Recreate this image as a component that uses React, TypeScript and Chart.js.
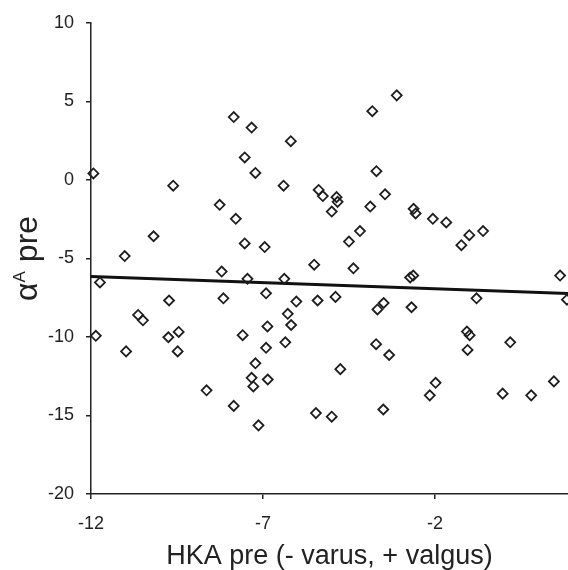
import React, { useEffect, useRef } from "react";
import { Chart, registerables } from "chart.js";

Chart.register(...registerables);

const hkaPre = [-11.93,-11.74,-11.86,-11.02,-10.98,-10.63,-10.49,-10.18,-9.61,-9.73,-9.75,-9.45,-9.48,-8.64,-8.26,-8.20,-8.15,-7.85,-7.79,-7.85,-7.53,-7.53,-7.45,-7.59,-7.33,-7.22,-7.22,-7.33,-7.28,-7.13,-6.95,-6.91,-6.87,-6.91,-6.86,-6.19,-6.40,-6.38,-6.28,-6.18,-6.35,-6.03,-5.51,-5.41,-5.46,-5.38,-5.26,-5.00,-4.86,-4.83,-4.89,-5.00,-4.75,-4.50,-4.37,-4.18,-3.88,-3.82,-3.70,-3.67,-3.49,-3.71,-3.45,-3.33,-3.50,-3.11,-2.72,-2.63,-2.68,-2.62,-2.56,-2.06,-1.67,-2.15,-1.98,-1.23,-1.00,-0.60,-0.79,-1.07,-0.99,-1.05,0.19,-0.03,0.80,1.46,1.64,1.84];
const alphaPre = [0.41,-6.53,-9.93,-4.85,-10.92,-8.6,-8.94,-3.59,-0.37,-7.68,-10.02,-9.68,-10.92,-13.40,-1.59,-5.84,-7.54,4.0,-2.48,-14.39,1.43,-4.05,-6.30,-9.89,3.33,0.44,-11.68,-12.6,-13.15,-15.63,-4.28,-7.22,-9.33,-10.69,-12.71,2.46,-0.37,-6.30,-8.53,-9.24,-10.34,-7.75,-5.40,-7.68,-14.85,-0.64,-1.03,-2.02,-1.10,-1.40,-7.45,-15.08,-12.05,-3.93,-5.63,-3.26,-1.70,4.37,0.55,-8.25,-7.84,-10.46,-0.92,-11.15,-14.62,5.38,-6.21,-6.09,-8.11,-1.84,-2.14,-2.48,-2.71,-13.72,-12.92,-4.16,-3.52,-3.26,-7.54,-9.66,-9.89,-10.83,-10.34,-13.61,-13.72,-12.83,-6.09,-7.63];

const trendX = [-12, 1.87];
const trendY = [-6.16, -7.23];

const xTickValues = [-12, -7, -2];
const yTickValues = [-20, -15, -10, -5, 0, 5, 10];

const xTitle = "HKA pre (- varus, + valgus)";
const yTitleMain = "\u03B1";
const yTitleSup = "A";
const yTitleRest = " pre";

const FONT = "'Liberation Sans', Arial, sans-serif";
const INK = "#222";

const yTitlePlugin = {
  id: "yTitle",
  afterDraw(chart: any) {
    const { ctx, chartArea } = chart;
    const cy = (chartArea.top + chartArea.bottom) / 2;
    ctx.save();
    ctx.fillStyle = INK;
    ctx.textBaseline = "alphabetic";
    ctx.textAlign = "left";
    const big = `32px ${FONT}`;
    const small = `17px ${FONT}`;
    ctx.font = big;
    const w1 = ctx.measureText(yTitleMain).width;
    const w3 = ctx.measureText(yTitleRest).width;
    ctx.font = small;
    const w2 = ctx.measureText(yTitleSup).width;
    const total = w1 + w2 + w3;
    ctx.translate(37, cy);
    ctx.rotate(-Math.PI / 2);
    let x = -total / 2;
    ctx.font = big;
    ctx.fillText(yTitleMain, x, 0);
    x += w1;
    ctx.font = small;
    ctx.fillText(yTitleSup, x, -12);
    x += w2;
    ctx.font = big;
    ctx.fillText(yTitleRest, x, 0);
    ctx.restore();
  },
};

export default function App() {
  const ref = useRef<HTMLCanvasElement>(null);
  useEffect(() => {
    if (!ref.current) return;
    const chart = new Chart(ref.current, {
      type: "scatter",
      data: {
        datasets: [
          {
            type: "scatter",
            label: "data",
            data: hkaPre.map((x, i) => ({ x, y: alphaPre[i] })),
            pointStyle: "rectRot",
            pointRadius: 5,
            pointBorderWidth: 1.8,
            borderColor: "#1e1e1e",
            backgroundColor: "rgba(255,255,255,0)",
            clip: false as any,
          },
          {
            type: "line",
            label: "trend",
            data: trendX.map((x, i) => ({ x, y: trendY[i] })),
            borderColor: "#111",
            borderWidth: 3,
            pointRadius: 0,
            fill: false,
          } as any,
        ],
      },
      options: {
        responsive: false,
        animation: false,
        layout: { autoPadding: false, padding: { top: 20, right: 0, bottom: 0, left: 0 } } as any,
        plugins: {
          legend: { display: false },
          tooltip: { enabled: false },
        },
        scales: {
          x: {
            type: "linear",
            min: -12,
            max: 1.87,
            afterBuildTicks: (s: any) => {
              s.ticks = xTickValues.map((v) => ({ value: v }));
            },
            afterFit: (s: any) => {
              s.height = 76;
            },
            grid: {
              drawOnChartArea: false,
              drawTicks: true,
              tickLength: 5,
              color: INK,
              lineWidth: 1.5,
            },
            border: { display: true, color: INK, width: 1.5 },
            ticks: {
              color: INK,
              font: { family: FONT, size: 18 },
              padding: 14,
              maxRotation: 0,
            },
            title: {
              display: true,
              text: xTitle,
              color: INK,
              font: { family: FONT, size: 27, lineHeight: 1 },
              padding: { top: 0, bottom: 0 },
            },
          },
          y: {
            type: "linear",
            min: -20,
            max: 10,
            afterBuildTicks: (s: any) => {
              s.ticks = yTickValues.map((v) => ({ value: v }));
            },
            afterFit: (s: any) => {
              s.width = 91;
            },
            grid: {
              drawOnChartArea: false,
              drawTicks: true,
              tickLength: 5,
              color: INK,
              lineWidth: 1.5,
            },
            border: { display: true, color: INK, width: 1.5 },
            ticks: {
              color: INK,
              font: { family: FONT, size: 18 },
              padding: 12,
            },
          },
        },
      },
      plugins: [yTitlePlugin],
    });
    return () => chart.destroy();
  }, []);
  return (
    <div style={{ position: "absolute", left: 0, top: 0, width: 568, height: 570, background: "#fff" }}>
      <canvas ref={ref} width={568} height={570} style={{ display: "block" }} />
    </div>
  );
}
